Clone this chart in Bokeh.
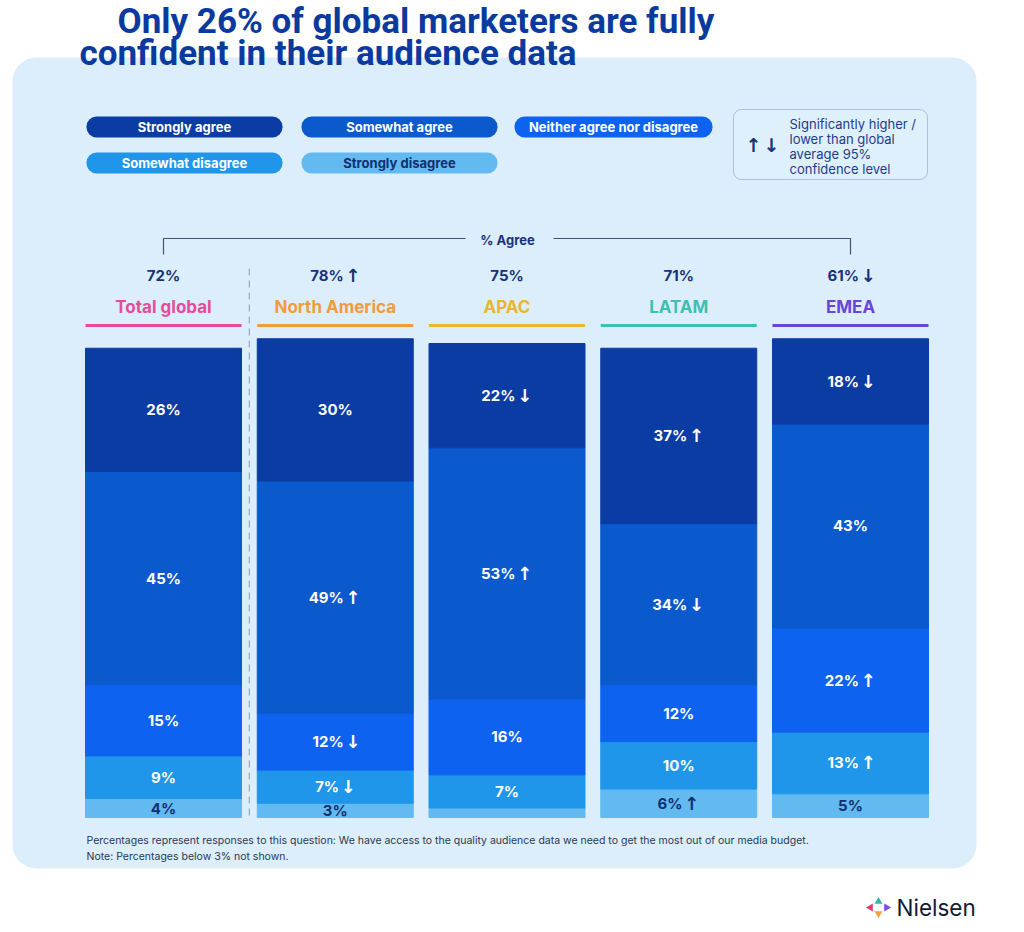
import numpy as np
from bokeh.plotting import figure
from bokeh.models import ColumnDataSource, Range1d, BoxAnnotation
from bokeh.core.properties import value
from bokeh.embed import file_html
from bokeh.resources import INLINE

# ---------------- data ----------------
regions = ["Total global", "North America", "APAC", "LATAM", "EMEA"]
region_colors = ["#E84A9B", "#F39A3B", "#E9B62E", "#3DC0B2", "#6A43D9"]
agree_total = [72, 78, 75, 71, 61]
agree_sig = ["", "up", "", "", "down"]

categories = ["Strongly agree", "Somewhat agree", "Neither agree nor disagree",
              "Somewhat disagree", "Strongly disagree"]
cat_colors = ["#0B3CA3", "#0A59CD", "#0D63F0", "#1F96EA", "#63BAF1"]
cat_text_colors = ["white", "white", "white", "white", "#10306F"]

strongly_agree = [26, 30, 22, 37, 18]
somewhat_agree = [45, 49, 53, 34, 43]
neither = [15, 12, 16, 12, 22]
somewhat_disagree = [9, 7, 7, 10, 13]
strongly_disagree = [4, 3, 2, 6, 5]

sig_strongly_agree = ["", "", "down", "up", "down"]
sig_somewhat_agree = ["", "up", "up", "down", ""]
sig_neither = ["", "down", "", "", "up"]
sig_somewhat_disagree = ["", "down", "", "", "up"]
sig_strongly_disagree = ["", "", "", "up", ""]

series = [strongly_agree, somewhat_agree, neither, somewhat_disagree, strongly_disagree]
sigs = [sig_strongly_agree, sig_somewhat_agree, sig_neither, sig_somewhat_disagree, sig_strongly_disagree]

ARROW = {"up": "\u2191", "down": "\u2193"}

# ---------------- layout helpers (page pixel -> data units) ----------------
PX_PER_PCT = 4.74
BASE_PY = 817.0
X0_PX = 163.0
STEP_PX = 171.75
FIG_W, FIG_H = 1008, 924


def Y(py):
    return (BASE_PY - py) / PX_PER_PCT


def X(px):
    return (px - X0_PX) / STEP_PX


BAR_W = 156 / STEP_PX
FONT = value("Inter")
ARROW_FONT = value("DejaVu Sans")
NAVY = "#17337A"

p = figure(width=FIG_W, height=FIG_H, x_range=Range1d(X(0), X(FIG_W)),
           y_range=Range1d(Y(FIG_H), Y(0)), output_backend="svg",
           toolbar_location=None, x_axis_location=None, y_axis_location=None,
           min_border=0, border_fill_color="white", background_fill_color="white",
           outline_line_color=None)
p.grid.visible = False

# background panel
p.add_layout(BoxAnnotation(left=X(12), right=X(976), top=Y(57), bottom=Y(868),
                           fill_color="#DCEEFC", fill_alpha=1, line_color=None,
                           border_radius=24, level="underlay"))

# ---------------- title ----------------
p.text(x=[X(117), X(79)], y=[Y(21), Y(53)],
       text=["Only 26% of global marketers are fully", "confident in their audience data"],
       text_font=value("Roboto"), text_font_style="bold",
       text_font_size="35px", text_color="#0B3A9F", text_baseline="middle",
       text_align="left")

# ---------------- legend pills ----------------
pill_lefts = [86, 301, 514, 86, 301]
pill_tops = [116, 116, 116, 152, 152]
pill_w = [196, 196, 198, 196, 196]
for i, cat in enumerate(categories):
    l, t = pill_lefts[i], pill_tops[i]
    p.add_layout(BoxAnnotation(left=X(l), right=X(l + pill_w[i]), top=Y(t), bottom=Y(t + 21),
                               fill_color=cat_colors[i], fill_alpha=1, line_color=None,
                               border_radius=10, level="underlay"))
p.text(x=[X(l + w / 2) for l, w in zip(pill_lefts, pill_w)],
       y=[Y(t + 10.5) for t in pill_tops], text=categories,
       text_color=cat_text_colors, text_font=FONT, text_font_style="bold",
       text_font_size="13px", text_align="center", text_baseline="middle")

# significance key box
p.add_layout(BoxAnnotation(left=X(733), right=X(927), top=Y(109), bottom=Y(179),
                           fill_color="#DFF0FD", fill_alpha=1, line_color="#3A5488",
                           line_width=1, border_radius=8, level="underlay"))
p.text(x=[X(753), X(771)], y=[Y(144), Y(144)], text=[ARROW["up"], ARROW["down"]],
       text_font=ARROW_FONT, text_font_style="bold", text_font_size="19px", text_color=NAVY,
       text_align="center", text_baseline="middle")
p.text(x=[X(789)] * 4, y=[Y(123), Y(138), Y(153), Y(168)],
       text=["Significantly higher /", "lower than global", "average 95%", "confidence level"],
       text_font=FONT, text_font_size="13px", text_color="#1D3D8C",
       text_align="left", text_baseline="middle")

# ---------------- % Agree bracket ----------------
xs = np.arange(len(regions), dtype=float)
p.line(x=[xs[0], xs[0], X(465)], y=[Y(254), Y(238), Y(238)], line_color="#3E5276", line_width=1.2)
p.line(x=[X(553), xs[-1], xs[-1]], y=[Y(238), Y(238), Y(254)], line_color="#3E5276", line_width=1.2)
p.text(x=[X(507)], y=[Y(239)], text=["% Agree"], text_font=FONT, text_font_style="bold",
       text_font_size="13px", text_color=NAVY, text_align="center", text_baseline="middle")


# helper: number + (optional) bold arrow, centred as a group
def add_value_labels(xc, yc, vals, sig, colors, size=15):
    nx, ny, nt, nc, ax, ay, at, ac = [], [], [], [], [], [], [], []
    digit_w, pct_w, gap, arr_w = 0.62 * size, 0.82 * size, 4.0, 0.66 * size
    for x0, y0, v, s, c in zip(xc, yc, vals, sig, colors):
        txt = f"{v}%"
        if s:
            num_w = digit_w * len(str(v)) + pct_w
            total = num_w + gap + arr_w
            right = -total / 2 + num_w
            nx.append(x0 + right / STEP_PX)
            ax.append(x0 + (right + gap + arr_w / 2) / STEP_PX)
            ay.append(y0)
            at.append(ARROW[s])
            ac.append(c)
            al = "right"
        else:
            nx.append(x0)
            al = "center"
        ny.append(y0)
        nt.append((txt, al))
        nc.append(c)
    for align in ("center", "right"):
        idx = [i for i, t in enumerate(nt) if t[1] == align]
        if idx:
            p.text(x=[nx[i] for i in idx], y=[ny[i] for i in idx], text=[nt[i][0] for i in idx],
                   text_color=[nc[i] for i in idx], text_font=FONT, text_font_style="bold",
                   text_font_size=f"{size}px", text_align=align, text_baseline="middle")
    if ax:
        p.text(x=ax, y=ay, text=at, text_color=ac, text_font=ARROW_FONT,
               text_font_style="bold", text_font_size=f"{size + 3}px",
               text_align="center", text_baseline="middle")


# totals and region headers
add_value_labels(xs, [Y(275)] * len(xs), agree_total, agree_sig, [NAVY] * len(xs))
p.text(x=xs, y=[Y(306)] * len(xs), text=regions, text_color=region_colors,
       text_font=FONT, text_font_style="bold", text_font_size="17px",
       text_align="center", text_baseline="middle")
p.segment(x0=xs - BAR_W / 2, x1=xs + BAR_W / 2, y0=[Y(325)] * len(xs), y1=[Y(325)] * len(xs),
          line_color=region_colors, line_width=3)

# dashed separator between total and regions
p.line(x=[0.5, 0.5], y=[Y(268), 0], line_color="#9AA6B8", line_width=1.2, line_dash="7 5")

# ---------------- stacked bars ----------------
stack_keys = ["sd", "swd", "ne", "swa", "sa"]
stack_vals = [strongly_disagree, somewhat_disagree, neither, somewhat_agree, strongly_agree]
stack_cols = cat_colors[::-1]
src = ColumnDataSource(dict(x=xs, **{k: v for k, v in zip(stack_keys, stack_vals)}))
p.vbar_stack(stack_keys, x="x", width=BAR_W, color=stack_cols, source=src)

# segment labels
lab_x, lab_y, lab_v, lab_s, lab_c = [], [], [], [], []
bottom = np.zeros(len(xs))
for ci in range(len(categories) - 1, -1, -1):
    vals = np.array(series[ci], dtype=float)
    mids = bottom + vals / 2
    for j in range(len(xs)):
        if vals[j] >= 3:
            lab_x.append(xs[j])
            lab_y.append(mids[j])
            lab_v.append(int(vals[j]))
            lab_s.append(sigs[ci][j])
            lab_c.append(cat_text_colors[ci])
    bottom = bottom + vals
add_value_labels(lab_x, lab_y, lab_v, lab_s, lab_c)

# ---------------- footnotes ----------------
p.text(x=[X(86), X(86)], y=[Y(840), Y(856)],
       text=["Percentages represent responses to this question: We have access to the quality audience data we need to get the most out of our media budget.",
             "Note: Percentages below 3% not shown."],
       text_font=FONT, text_font_size="10.5px", text_color="#2C3752",
       text_align="left", text_baseline="middle")

# ---------------- Nielsen logo ----------------
p.scatter(x=[X(870), X(878), X(878), X(886)], y=[Y(907), Y(901), Y(913), Y(907)],
          marker="triangle", size=8, angle=[np.pi / 2, 0, np.pi, -np.pi / 2],
          fill_color=["#E23B6C", "#2FB7B0", "#F2A23A", "#7B4FE0"], line_color=None)
p.text(x=[X(896)], y=[Y(907)], text=["Nielsen"], text_font=FONT, text_font_style="normal",
       text_font_size="22.5px", text_color="#0F1B35", text_align="left", text_baseline="middle")

open("out.html", "w").write(file_html(p, INLINE))
